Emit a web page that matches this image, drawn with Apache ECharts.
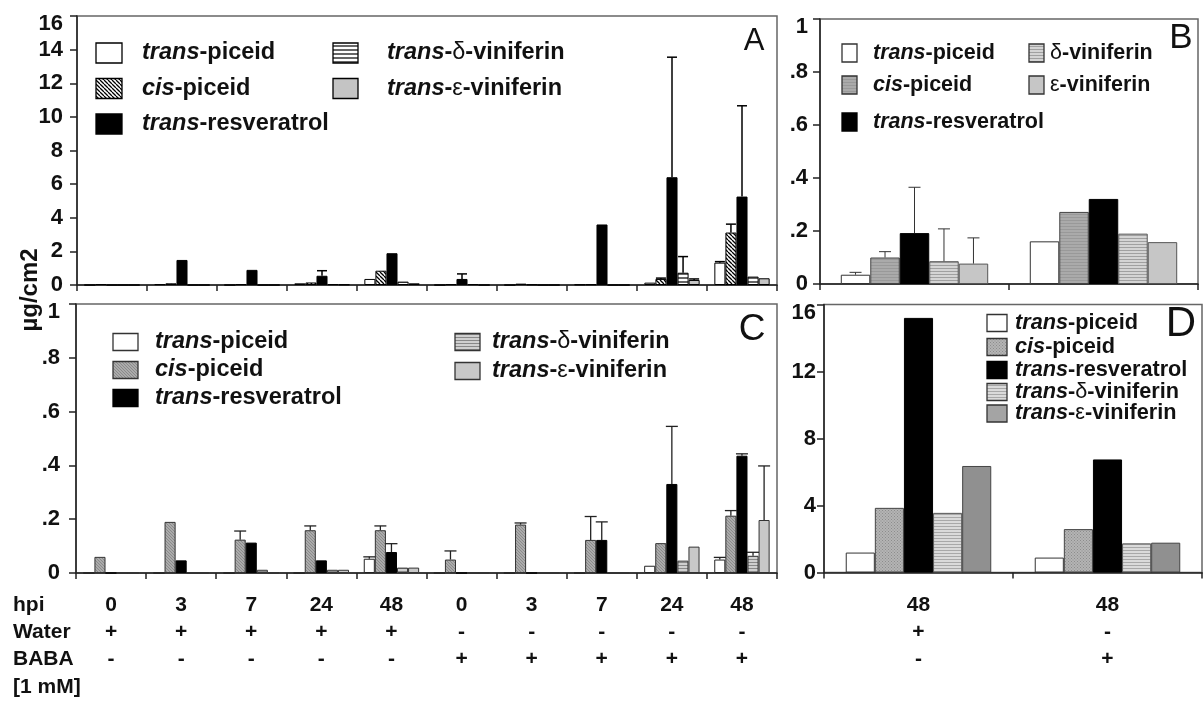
<!DOCTYPE html>
<html><head><meta charset="utf-8">
<script src="https://cdn.jsdelivr.net/npm/echarts@6/dist/echarts.min.js"></script>
<style>html,body{margin:0;padding:0;background:#fff}#c{width:1203px;height:702px}</style>
</head><body><div id="c"></div>
<script>
// ---------- categories / tick labels ----------
const hpiAC   = ['0','3','7','24','48','0','3','7','24','48'];
const waterAC = ['+','+','+','+','+','-','-','-','-','-'];
const babaAC  = ['-','-','-','-','-','+','+','+','+','+'];
const hpiBD   = ['48','48'];
const waterBD = ['+','-'];
const babaBD  = ['-','+'];
const rowLabels = ['hpi','Water','BABA','[1 mM]'];

// ---------- Panel A (µg/cm2) ----------
const aTransPiceid = [0, 0.05, 0, 0.1, 0.36, 0, 0, 0.03, 0.14, 1.33];
const aCisPiceid   = [0.05, 0.1, 0.05, 0.15, 0.85, 0.05, 0.08, 0.04, 0.36, 3.12];
const aResveratrol = [0, 1.49, 0.9, 0.55, 1.89, 0.36, 0.03, 3.6, 6.41, 5.26];
const aDeltaVin    = [0, 0, 0, 0.05, 0.2, 0.05, 0, 0, 0.73, 0.5];
const aEpsVin      = [0, 0, 0, 0.03, 0.1, 0, 0, 0, 0.3, 0.4];
const aTransPiceidErr = [0, 0, 0, 0, 0, 0, 0, 0, 0, 0.06];
const aCisPiceidErr   = [0, 0, 0, 0, 0, 0, 0, 0, 0.05, 0.5];
const aResveratrolErr = [0, 0, 0, 0.3, 0, 0.3, 0, 0, 7.14, 5.4];
const aDeltaVinErr    = [0, 0, 0, 0, 0, 0, 0, 0, 0.96, 0];
const aEpsVinErr      = [0, 0, 0, 0, 0, 0, 0, 0, 0.06, 0];

// ---------- Panel B ----------
const bTransPiceid = [0.035, 0.161];
const bCisPiceid   = [0.10, 0.272];
const bResveratrol = [0.192, 0.321];
const bDeltaVin    = [0.086, 0.19];
const bEpsVin      = [0.077, 0.158];
const bTransPiceidErr = [0.009, 0];
const bCisPiceidErr   = [0.022, 0];
const bResveratrolErr = [0.173, 0];
const bDeltaVinErr    = [0.122, 0];
const bEpsVinErr      = [0.097, 0];

// ---------- Panel C ----------
const cTransPiceid = [0, 0, 0, 0, 0.053, 0, 0, 0, 0.027, 0.05];
const cCisPiceid   = [0.06, 0.19, 0.124, 0.159, 0.159, 0.05, 0.18, 0.123, 0.111, 0.213];
const cResveratrol = [0, 0.047, 0.113, 0.047, 0.078, 0, 0, 0.123, 0.331, 0.436];
const cDeltaVin    = [0, 0, 0.012, 0.012, 0.02, 0, 0, 0, 0.046, 0.064];
const cEpsVin      = [0, 0, 0, 0.012, 0.02, 0, 0, 0, 0.098, 0.197];
const cTransPiceidErr = [0, 0, 0, 0, 0.007, 0, 0, 0, 0, 0.008];
const cCisPiceidErr   = [0, 0, 0.032, 0.016, 0.016, 0.032, 0.006, 0.087, 0, 0.019];
const cResveratrolErr = [0, 0, 0, 0, 0.031, 0, 0, 0.067, 0.214, 0.007];
const cDeltaVinErr    = [0, 0, 0, 0, 0, 0, 0, 0, 0, 0.013];
const cEpsVinErr      = [0, 0, 0, 0, 0, 0, 0, 0, 0, 0.201];

// ---------- Panel D ----------
const dTransPiceid = [1.19, 0.89];
const dCisPiceid   = [3.86, 2.59];
const dResveratrol = [15.2, 6.75];
const dDeltaVin    = [3.56, 1.74];
const dEpsVin      = [6.36, 1.78];

// ---------- patterns ----------
function pat(bg, fg, kind, step, lw) {
  const c = document.createElement('canvas');
  c.width = step; c.height = step;
  const g = c.getContext('2d');
  g.fillStyle = bg; g.fillRect(0, 0, step, step);
  g.strokeStyle = fg; g.fillStyle = fg; g.lineWidth = lw;
  if (kind === 'h') {
    g.beginPath(); g.moveTo(0, step / 2); g.lineTo(step, step / 2); g.stroke();
  } else if (kind === 'd') {
    g.beginPath();
    for (let k = -1; k <= 1; k++) { g.moveTo(k * step, 0); g.lineTo(k * step + step, step); }
    g.stroke();
  } else if (kind === 'dot') {
    g.fillRect(0, 0, 1, 1); g.fillRect(step / 2, step / 2, 1, 1);
  }
  return { image: c, repeat: 'repeat' };
}

const FONT = "'Liberation Sans', Arial, Helvetica, sans-serif";

const stylesA = [
  { fill: '#ffffff', border: '#000' },
  { fill: pat('#ffffff', '#000000', 'd', 4, 1.3), border: '#000' },
  { fill: '#000000', border: '#000' },
  { fill: pat('#ffffff', '#000000', 'h', 4, 1.2), border: '#000' },
  { fill: '#c4c4c4', border: '#000' }
];
const stylesB = [
  { fill: '#ffffff', border: '#333' },
  { fill: pat('#aaaaaa', '#999999', 'h', 3, 1), border: '#444' },
  { fill: '#000000', border: '#000' },
  { fill: pat('#d4d4d4', '#a0a0a0', 'h', 3, 1), border: '#555' },
  { fill: '#c6c6c6', border: '#555' }
];
const stylesC = [
  { fill: '#ffffff', border: '#222' },
  { fill: pat('#ababab', '#8a8a8a', 'd', 3, 1), border: '#333' },
  { fill: '#000000', border: '#000' },
  { fill: pat('#cfcfcf', '#888888', 'h', 3, 1), border: '#333' },
  { fill: '#c8c8c8', border: '#333' }
];
const stylesD = [
  { fill: '#ffffff', border: '#333' },
  { fill: pat('#b4b4b4', '#8c8c8c', 'dot', 3, 1), border: '#444' },
  { fill: '#000000', border: '#000' },
  { fill: pat('#dadada', '#a8a8a8', 'h', 3, 1), border: '#555' },
  { fill: '#909090', border: '#444' }
];

const series = [];
function addPanel(gi, vals, errs, styles, gap, capW, errColor, errW) {
  vals.forEach((arr, si) => {
    series.push({
      type: 'bar', xAxisIndex: gi, yAxisIndex: gi, data: arr,
      barGap: '0%', barCategoryGap: (gap * 100) + '%', z: 2,
      itemStyle: { color: styles[si].fill, borderColor: styles[si].border, borderWidth: 1 },
      emphasis: { disabled: true }, silent: true
    });
    if (errs) {
      const n = vals.length;
      series.push({
        type: 'custom', xAxisIndex: gi, yAxisIndex: gi, z: 3, silent: true,
        data: arr.map((v, i) => [i, v, errs[si][i]]),
        renderItem: function (params, api) {
          const cat = api.value(0), v = api.value(1), e = api.value(2);
          if (!e) return null;
          const base = api.coord([cat, v]);
          const top = api.coord([cat, v + e]);
          const cw = api.size([1, 0])[0];
          const bw = cw * (1 - gap) / n;
          const x = base[0] + (si - (n - 1) / 2) * bw;
          const st = { stroke: errColor, lineWidth: errW };
          return { type: 'group', children: [
            { type: 'line', shape: { x1: x, y1: base[1], x2: x, y2: top[1] }, style: st },
            { type: 'line', shape: { x1: x - capW / 2, y1: top[1], x2: x + capW / 2, y2: top[1] }, style: st }
          ]};
        }
      });
    }
  });
}

addPanel(0, [aTransPiceid, aCisPiceid, aResveratrol, aDeltaVin, aEpsVin],
  [aTransPiceidErr, aCisPiceidErr, aResveratrolErr, aDeltaVinErr, aEpsVinErr], stylesA, 0.21, 10, '#000', 1.5);
addPanel(1, [bTransPiceid, bCisPiceid, bResveratrol, bDeltaVin, bEpsVin],
  [bTransPiceidErr, bCisPiceidErr, bResveratrolErr, bDeltaVinErr, bEpsVinErr], stylesB, 0.22, 12, '#333', 1);
addPanel(2, [cTransPiceid, cCisPiceid, cResveratrol, cDeltaVin, cEpsVin],
  [cTransPiceidErr, cCisPiceidErr, cResveratrolErr, cDeltaVinErr, cEpsVinErr], stylesC, 0.21, 12, '#222', 1.3);
addPanel(3, [dTransPiceid, dCisPiceid, dResveratrol, dDeltaVin, dEpsVin], null, stylesD, 0.23, 0, '#000', 1);

const grids = [
  { left: 77, top: 16, width: 700, height: 269 },
  { left: 820, top: 19, width: 378, height: 265 },
  { left: 76, top: 304, width: 701, height: 269 },
  { left: 824, top: 304.5, width: 378, height: 268 }
].map(g => Object.assign(g, { show: true, borderColor: '#666', borderWidth: 1.5, backgroundColor: 'transparent' }));

const labelBold = { fontFamily: FONT, fontWeight: 'bold', fontSize: 22, color: '#111' };
function yAxis(gi, max, interval, fmt, margin) {
  return {
    type: 'value', gridIndex: gi, min: 0, max: max, interval: interval,
    splitLine: { show: false },
    axisLine: { show: true, lineStyle: { color: '#222', width: 1.5 } },
    axisTick: { show: true, length: 7, lineStyle: { color: '#222', width: 1.5 } },
    axisLabel: Object.assign({}, labelBold, {
      margin: margin,
      formatter: v => v === max ? '{t|' + fmt(v) + '}' : fmt(v),
      rich: { t: Object.assign({}, labelBold, { padding: [16, 0, 0, 0] }) }
    })
  };
}
const intFmt = v => String(v);
const fracFmt = v => v === 0 ? '0' : (v >= 1 ? String(v) : String(+v.toFixed(1)).replace(/^0/, ''));

function xAxis(gi, n, labels) {
  return {
    type: 'category', gridIndex: gi, data: Array.from({ length: n }, (_, i) => 'c' + i),
    axisLine: { show: true, lineStyle: { color: '#222', width: 1.5 } },
    axisTick: { show: true, length: 6, lineStyle: { color: '#222', width: 1.5 } },
    axisLabel: labels ? Object.assign({}, labelBold, {
      fontSize: 21, margin: 19, lineHeight: 27, interval: 0,
      formatter: (v, i) => labels[0][i] + '\n' + labels[1][i] + '\n' + labels[2][i]
    }) : { show: false }
  };
}

// ---------- legends & annotations (graphic) ----------
const graphic = [];
function legendItem(x, y, sw, sh, style, tx, ty, rich, fs) {
  graphic.push({ type: 'rect', shape: { x: x, y: y - sh / 2, width: sw, height: sh },
    style: { fill: style.fill, stroke: style.border === '#000' ? '#000' : '#333', lineWidth: 1.3 }, z: 10 });
  graphic.push({ type: 'text', x: tx, y: ty, z: 10,
    style: { text: rich, verticalAlign: 'middle', align: 'left',
      rich: {
        i: { fontFamily: FONT, fontStyle: 'italic', fontWeight: 'bold', fontSize: fs, fill: '#111' },
        b: { fontFamily: FONT, fontWeight: 'bold', fontSize: fs, fill: '#111' },
        g: { fontFamily: FONT, fontWeight: 'normal', fontSize: fs, fill: '#111' }
      } } });
}
const txtTP = '{i|trans}{b|-piceid}';
const txtCP = '{i|cis}{b|-piceid}';
const txtRS = '{i|trans}{b|-resveratrol}';
const txtDV = '{i|trans}{b|-}{g|δ}{b|-viniferin}';
const txtEV = '{i|trans}{b|-}{g|ε}{b|-viniferin}';

// Panel A legend
legendItem(96, 53, 26, 20, stylesA[0], 142, 53, txtTP, 23.5);
legendItem(96, 88.5, 26, 20, stylesA[1], 142, 88.5, txtCP, 23.5);
legendItem(96, 124, 26, 20, stylesA[2], 142, 124, txtRS, 23.5);
legendItem(333, 53, 25, 20, stylesA[3], 387, 53, txtDV, 23.5);
legendItem(333, 88.5, 25, 20, stylesA[4], 387, 88.5, txtEV, 23.5);
// Panel B legend
legendItem(842, 53, 15, 18, stylesB[0], 873, 53, txtTP, 21.5);
legendItem(842, 85, 15, 18, stylesB[1], 873, 85, txtCP, 21.5);
legendItem(842, 122, 15, 18, stylesB[2], 873, 122, txtRS, 21.5);
legendItem(1029, 53, 15, 18, stylesB[3], 1050, 53, '{g|δ}{b|-viniferin}', 21.5);
legendItem(1029, 85, 15, 18, stylesB[4], 1050, 85, '{g|ε}{b|-viniferin}', 21.5);
// Panel C legend
legendItem(113, 342, 25, 17, stylesC[0], 155, 342, txtTP, 23.5);
legendItem(113, 370, 25, 17, stylesC[1], 155, 370, txtCP, 23.5);
legendItem(113, 398, 25, 17, stylesC[2], 155, 398, txtRS, 23.5);
legendItem(455, 342, 25, 17, stylesC[3], 492, 342, txtDV, 23.5);
legendItem(455, 371, 25, 17, stylesC[4], 492, 371, txtEV, 23.5);
// Panel D legend
const dLegY = [323, 347, 370, 392, 413.5];
[txtTP, txtCP, txtRS, txtDV, txtEV].forEach((t, i) => {
  const st = i === 4 ? { fill: '#a4a4a4', border: '#444' } : stylesD[i];
  legendItem(987, dLegY[i], 20, 17, st, 1015, dLegY[i], t, 21.7);
});

// Panel letters
[['A', 754, 41, 31], ['B', 1181, 38, 35], ['C', 752, 330, 37], ['D', 1181, 324, 42]].forEach(p => {
  graphic.push({ type: 'text', x: p[1], y: p[2], z: 10,
    style: { text: p[0], align: 'center', verticalAlign: 'middle',
      font: 'normal ' + p[3] + 'px ' + FONT, fill: '#111' } });
});
// y axis name
graphic.push({ type: 'text', x: 30, y: 290, rotation: Math.PI / 2, z: 10,
  style: { text: 'µg/cm2', align: 'center', verticalAlign: 'middle',
    font: 'bold 24px ' + FONT, fill: '#111' } });
// row labels under C
const rowY = [605, 632, 659, 687];
rowLabels.forEach((t, i) => {
  graphic.push({ type: 'text', x: 13, y: rowY[i], z: 10,
    style: { text: t, align: 'left', verticalAlign: 'middle',
      font: 'bold 21px ' + FONT, fill: '#111' } });
});

const chart = echarts.init(document.getElementById('c'), null, { renderer: 'canvas' });
chart.setOption({
  animation: false,
  backgroundColor: '#ffffff',
  grid: grids,
  xAxis: [xAxis(0, 10, null), xAxis(1, 2, null), xAxis(2, 10, [hpiAC, waterAC, babaAC]), xAxis(3, 2, [hpiBD, waterBD, babaBD])],
  yAxis: [yAxis(0, 16, 2, intFmt, 14), yAxis(1, 1, 0.2, fracFmt, 12), yAxis(2, 1, 0.2, fracFmt, 16), yAxis(3, 16, 4, intFmt, 8)],
  series: series,
  graphic: graphic
});
</script>
</body></html>
